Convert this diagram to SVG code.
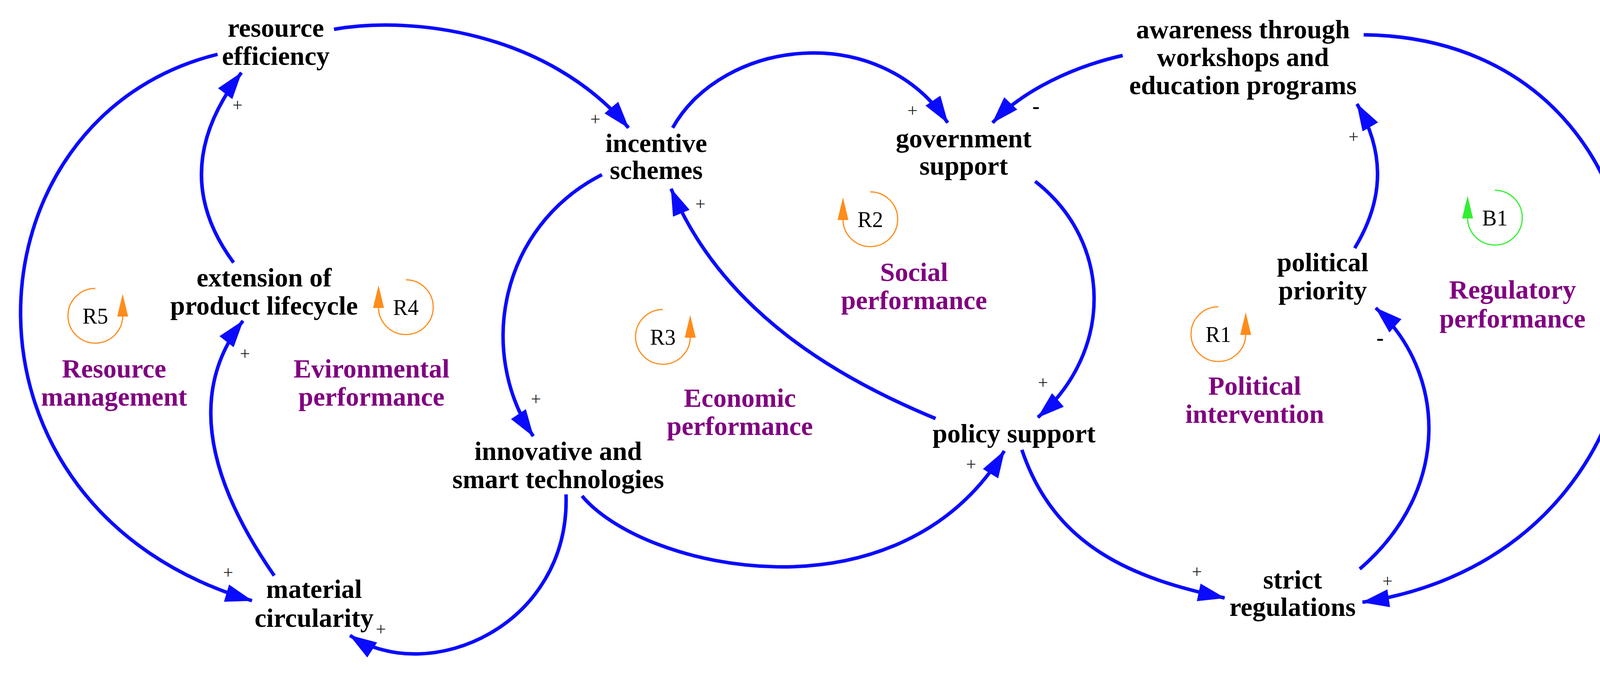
<svg xmlns="http://www.w3.org/2000/svg" width="4260" height="1740" viewBox="0 0 4260 1740">
<style>
.n{font-family:"Liberation Serif",serif;font-weight:bold;font-size:68px;fill:#000;text-anchor:middle}
.p{font-family:"Liberation Serif",serif;font-weight:bold;font-size:68px;fill:#800080;text-anchor:middle}
.s{font-family:"Liberation Serif",serif;font-size:46px;fill:#222;text-anchor:middle}
.m{font-family:"Liberation Serif",serif;font-weight:bold;font-size:56px;fill:#000;text-anchor:middle}
.l{font-family:"Liberation Serif",serif;font-size:56px;fill:#000;text-anchor:middle}
.c{fill:none;stroke:#0a0aff;stroke-width:9;marker-end:url(#a)}
.o{fill:none;stroke:#ff8c1a;stroke-width:3}
.g{fill:none;stroke:#33ee33;stroke-width:3}
</style>
<defs>
<marker id="a" markerUnits="userSpaceOnUse" markerWidth="72" markerHeight="48" refX="68" refY="24" orient="auto"><path d="M0,1 L70,24 L0,47 Z" fill="#0a0aff"/></marker>
</defs>
<rect width="4260" height="1740" fill="#fff"/>
<g id="connectors">
<path class="c" d="M855 75 C1050 40,1400 80,1609 327"/>
<path class="c" d="M557 139 C-100 300,-160 1300,645 1537"/>
<path class="c" d="M598 672 Q424 437 618 186"/>
<path class="c" d="M702 1473 Q424 1073 622 821"/>
<path class="c" d="M1541 447 C1280 580,1220 900,1365 1116"/>
<path class="c" d="M1449 1265 C1460 1600,1100 1760,896 1626"/>
<path class="c" d="M2395 1071 C2150 970,1850 800,1718 483"/>
<path class="c" d="M1490 1269 C1650 1460,2300 1600,2571 1154"/>
<path class="c" d="M1722 327 C1850 100,2250 50,2426 314"/>
<path class="c" d="M2874 142 C2750 170,2620 230,2541 314"/>
<path class="c" d="M2650 464 C2850 620,2850 900,2657 1068"/>
<path class="c" d="M2616 1151 C2700 1400,2900 1480,3135 1530"/>
<path class="c" d="M3481 1456 C3720 1250,3700 950,3522 788"/>
<path class="c" d="M3468 635 C3550 500,3540 380,3474 266"/>
<path class="c" d="M3491 89 C4390 100,4420 1400,3488 1541"/>
<text class="s" x="1524" y="320">+</text>
<text class="s" x="584" y="1480">+</text>
<text class="s" x="608" y="284">+</text>
<text class="s" x="627" y="920">+</text>
<text class="s" x="1372" y="1036">+</text>
<text class="s" x="975" y="1625">+</text>
<text class="s" x="1793" y="537">+</text>
<text class="s" x="2486" y="1203">+</text>
<text class="s" x="2336" y="298">+</text>
<text class="m" x="2652" y="290">-</text>
<text class="s" x="2670" y="994">+</text>
<text class="s" x="3064" y="1478">+</text>
<text class="m" x="3533" y="883">-</text>
<text class="s" x="3465" y="365">+</text>
<text class="s" x="3552" y="1502">+</text>
</g>
<g id="resource-efficiency"><text class="n" x="706" y="94">resource</text><text class="n" x="706" y="166">efficiency</text></g>
<g id="incentive-schemes"><text class="n" x="1680" y="389">incentive</text><text class="n" x="1680" y="458">schemes</text></g>
<g id="extension"><text class="n" x="676" y="733">extension of</text><text class="n" x="676" y="805">product lifecycle</text></g>
<g id="innovative"><text class="n" x="1429" y="1177">innovative and</text><text class="n" x="1429" y="1249">smart technologies</text></g>
<g id="material-circularity"><text class="n" x="804" y="1530">material</text><text class="n" x="804" y="1604">circularity</text></g>
<g id="government-support"><text class="n" x="2467" y="377">government</text><text class="n" x="2467" y="447">support</text></g>
<g id="awareness"><text class="n" x="3182" y="98">awareness through</text><text class="n" x="3182" y="169">workshops and</text><text class="n" x="3182" y="241">education programs</text></g>
<g id="political-priority"><text class="n" x="3386" y="694">political</text><text class="n" x="3386" y="766">priority</text></g>
<g id="policy-support"><text class="n" x="2596" y="1132">policy support</text></g>
<g id="strict-regulations"><text class="n" x="3309" y="1506">strict</text><text class="n" x="3309" y="1576">regulations</text></g>
<g id="labels">
<text class="p" x="292" y="966">Resource</text><text class="p" x="292" y="1038">management</text>
<text class="p" x="951" y="966">Evironmental</text><text class="p" x="951" y="1038">performance</text>
<text class="p" x="1894" y="1041">Economic</text><text class="p" x="1894" y="1113">performance</text>
<text class="p" x="2340" y="719">Social</text><text class="p" x="2340" y="791">performance</text>
<text class="p" x="3212" y="1010">Political</text><text class="p" x="3212" y="1082">intervention</text>
<text class="p" x="3872" y="764">Regulatory</text><text class="p" x="3872" y="838">performance</text>
</g>
<g id="loop-R5"><path class="o" d="M244 738 A70 70 0 1 0 314 808"/><polygon points="314,752 300,810 328,810" fill="#ff8c1a"/><text class="l" x="244" y="828">R5</text></g>
<g id="loop-R4"><path class="o" d="M1039 716 A70 70 0 1 1 969 786"/><polygon points="969,730 955,788 983,788" fill="#ff8c1a"/><text class="l" x="1039" y="806">R4</text></g>
<g id="loop-R3"><path class="o" d="M1697 792 A70 70 0 1 0 1767 862"/><polygon points="1767,806 1753,864 1781,864" fill="#ff8c1a"/><text class="l" x="1697" y="882">R3</text></g>
<g id="loop-R2"><path class="o" d="M2228 491 A70 70 0 1 1 2158 561"/><polygon points="2158,505 2144,563 2172,563" fill="#ff8c1a"/><text class="l" x="2228" y="581">R2</text></g>
<g id="loop-R1"><path class="o" d="M3119 785 A70 70 0 1 0 3189 855"/><polygon points="3189,799 3175,857 3203,857" fill="#ff8c1a"/><text class="l" x="3119" y="875">R1</text></g>
<g id="loop-B1"><path class="g" d="M3827 487 A70 70 0 1 1 3757 557"/><polygon points="3757,501 3743,559 3771,559" fill="#33ee33"/><text class="l" x="3827" y="577">B1</text></g>
</svg>
